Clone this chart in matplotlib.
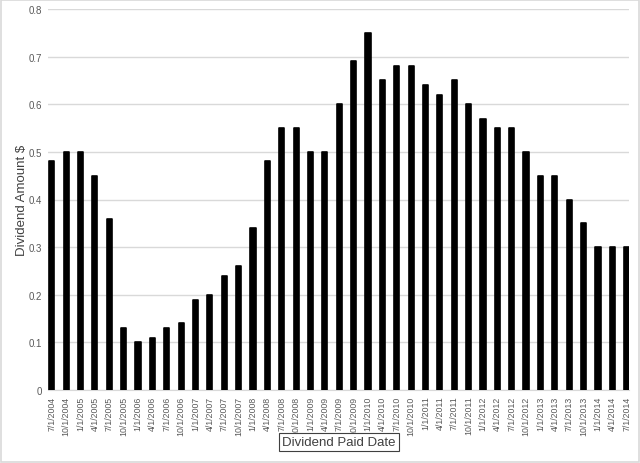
import matplotlib
matplotlib.use("Agg")
import matplotlib.pyplot as plt

dates = ["7/1/2004", "10/1/2004", "1/1/2005", "4/1/2005", "7/1/2005", "10/1/2005",
         "1/1/2006", "4/1/2006", "7/1/2006", "10/1/2006", "1/1/2007", "4/1/2007",
         "7/1/2007", "10/1/2007", "1/1/2008", "4/1/2008", "7/1/2008", "10/1/2008",
         "1/1/2009", "4/1/2009", "7/1/2009", "10/1/2009", "1/1/2010", "4/1/2010",
         "7/1/2010", "10/1/2010", "1/1/2011", "4/1/2011", "7/1/2011", "10/1/2011",
         "1/1/2012", "4/1/2012", "7/1/2012", "10/1/2012", "1/1/2013", "4/1/2013",
         "7/1/2013", "10/1/2013", "1/1/2014", "4/1/2014", "7/1/2014"]
dividends = [0.48, 0.50, 0.50, 0.45, 0.36, 0.13,
             0.10, 0.11, 0.13, 0.14, 0.19, 0.20,
             0.24, 0.26, 0.34, 0.48, 0.55, 0.55,
             0.50, 0.50, 0.60, 0.69, 0.75, 0.65,
             0.68, 0.68, 0.64, 0.62, 0.65, 0.60,
             0.57, 0.55, 0.55, 0.50, 0.45, 0.45,
             0.40, 0.35, 0.30, 0.30, 0.30]
yticks = [0, 0.1, 0.2, 0.3, 0.4, 0.5, 0.6, 0.7, 0.8]
ytick_labels = ["0", "0.1", "0.2", "0.3", "0.4", "0.5", "0.6", "0.7", "0.8"]

plt.rcParams['font.family'] = ['Liberation Sans', 'DejaVu Sans']

fig = plt.figure(figsize=(6.4, 4.64), dpi=100)
fig.patch.set_facecolor("white")
fig.patches.append(plt.Rectangle((0.002, 0.002), 0.996, 0.995, transform=fig.transFigure,
                                 fill=False, edgecolor="#d9d9d9", linewidth=1.2))

ax = fig.add_axes([48/640, 1 - 391/464, (629 - 48)/640, (391 - 10)/464])
x = list(range(len(dates)))
ax.bar(x, dividends, width=0.36, color="black", edgecolor="black", linewidth=1.2,
       joinstyle="round", zorder=3)
ax.set_xlim(-0.26, 40.16)
ax.set_ylim(0, 0.8)
ax.set_yticks(yticks)
ax.set_yticklabels(ytick_labels, fontsize=7, color="#595959")
ax.set_xticks(x)
ax.set_xticklabels(dates, rotation=90, fontsize=6.3, color="#595959")
ax.tick_params(axis="both", length=0, pad=4)
ax.yaxis.grid(True, color="#d9d9d9", linewidth=1)
ax.set_axisbelow(True)
for s in ["top", "right", "left"]:
    ax.spines[s].set_visible(False)
ax.spines["bottom"].set_color("#d9d9d9")

ax.set_ylabel("Dividend Amount $", fontsize=9.5, color="#404040", labelpad=1)
fig.text(339/640, 1 - 443/464, "Dividend Paid Date", fontsize=9.5, color="#404040",
         ha="center", va="center",
         bbox=dict(boxstyle="square,pad=0.25", facecolor="white", edgecolor="#404040", linewidth=0.8))

fig.savefig("out.png", dpi=100, facecolor="white")
